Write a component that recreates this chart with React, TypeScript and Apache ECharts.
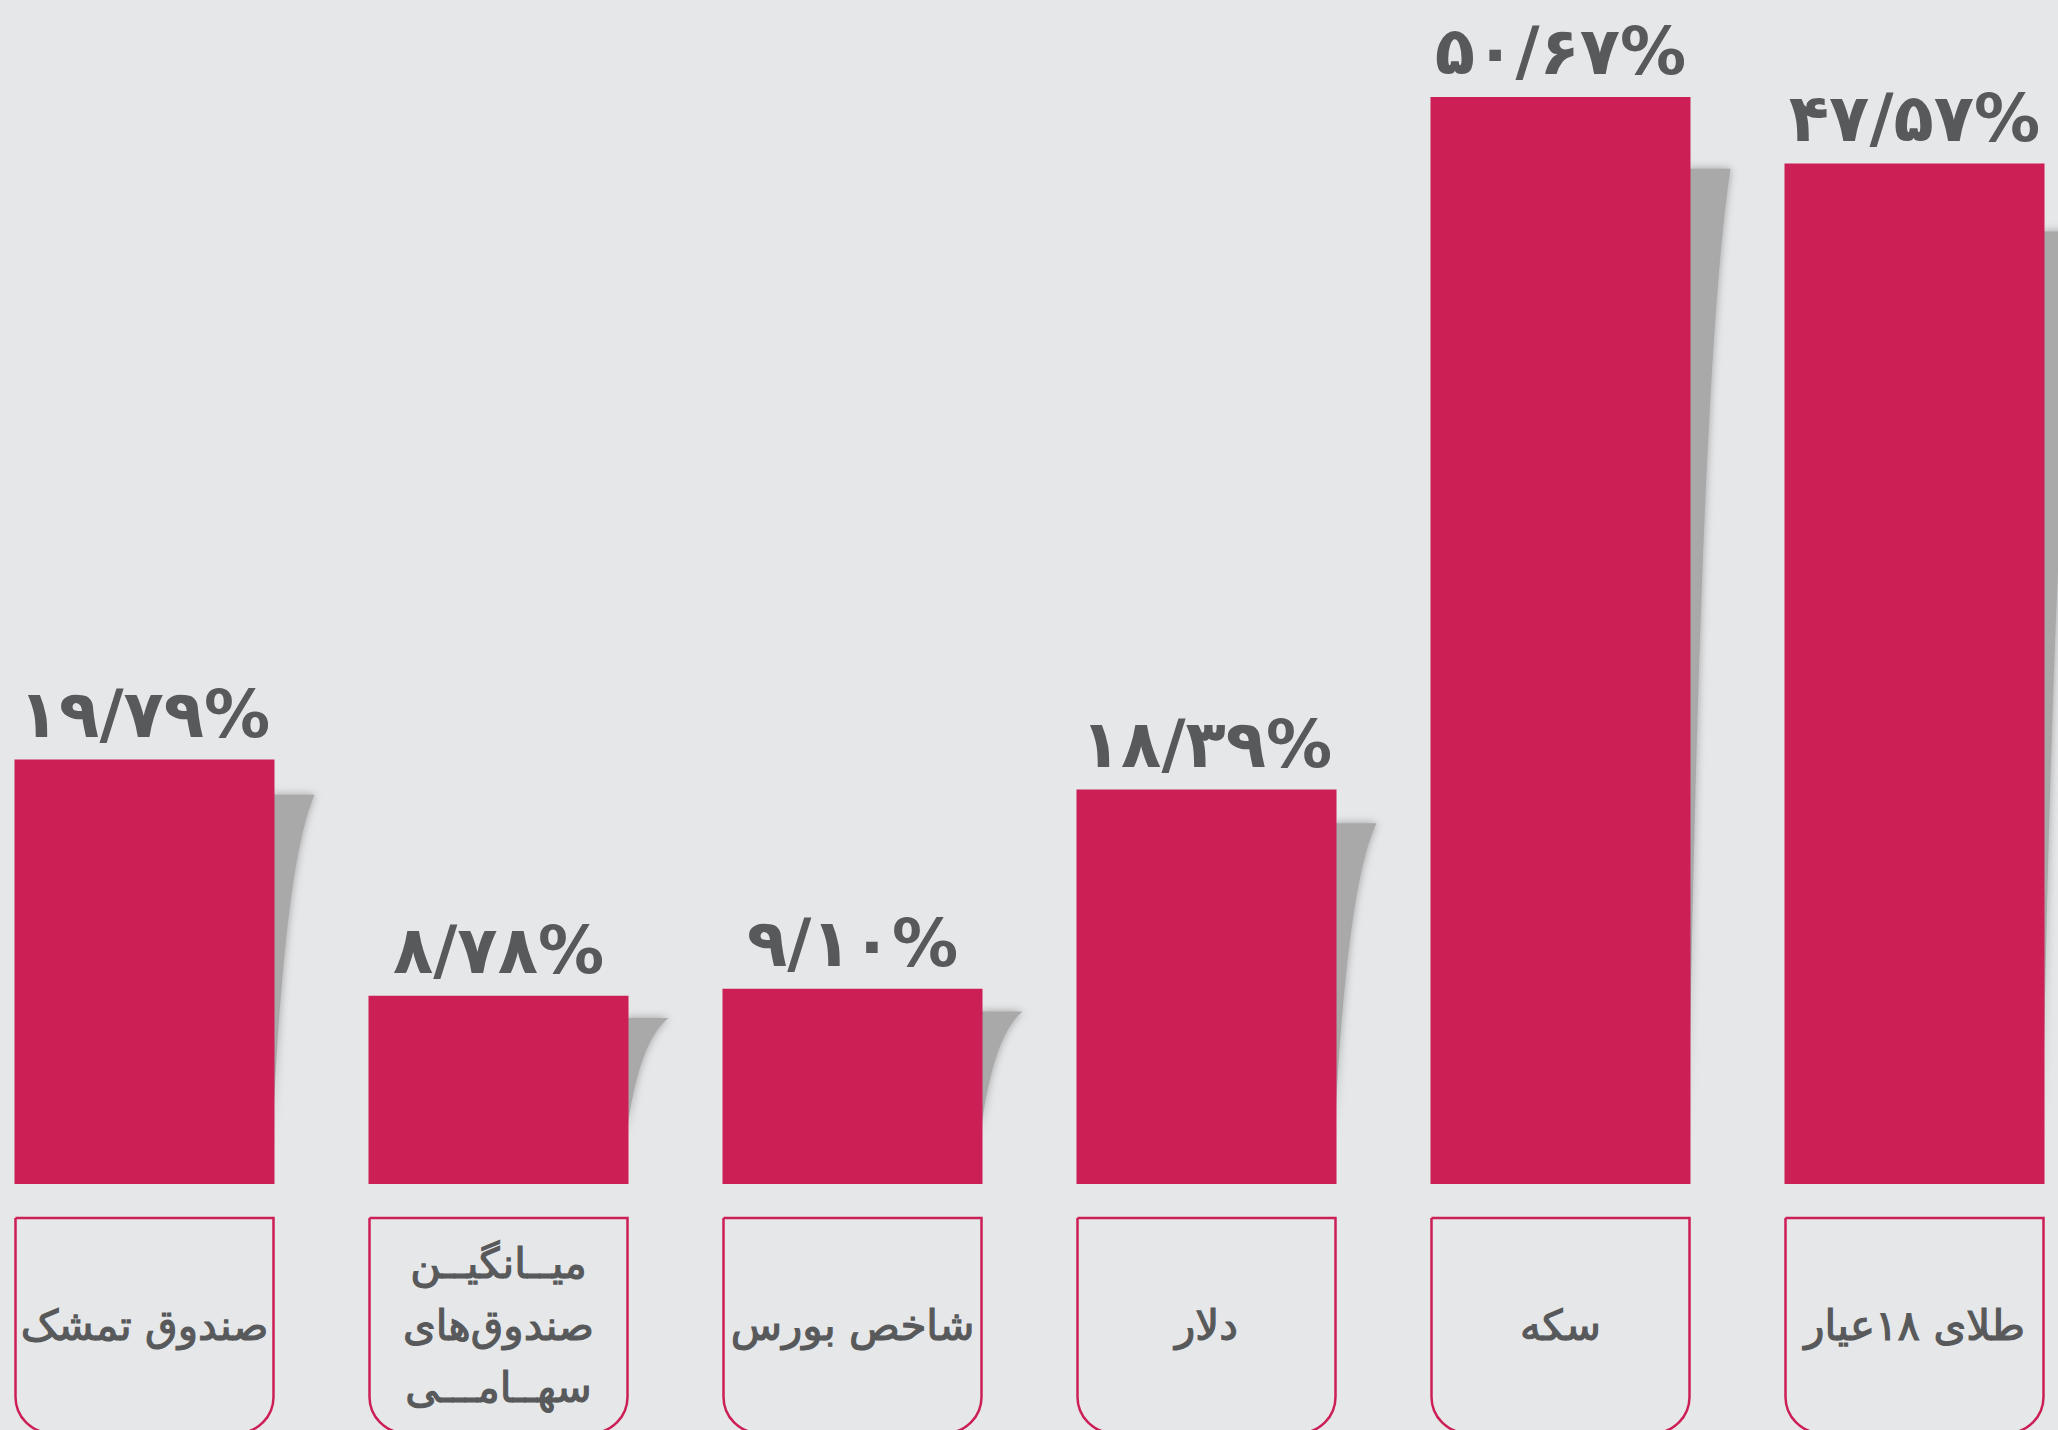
import React, { useEffect, useRef } from "react";
import * as echarts from "echarts";

// ---- data ----
const categories: string[] = [
  "صندوق تمشک",
  "میــانگیــن\nصندوق‌های\nسهــامـــی",
  "شاخص بورس",
  "دلار",
  "سکه",
  "طلای ۱۸عیار",
];
const values: number[] = [19.79, 8.78, 9.1, 18.39, 50.67, 47.57];

// ---- style ----
const BG = "#E6E7E9";
const CRIMSON = "#CC1F56";
const TEXT = "#58595B";
const SHADOW = "#A9A9A9";
const FONT = "'DejaVu Sans', 'Noto Sans', sans-serif";
const BAR_W = 260;
const BOX_W = 258;
const BOX_H = 215;
const BOX_GAP = 34;
const BOX_R = 36;

const persianDigits = "۰۱۲۳۴۵۶۷۸۹";
function toPersianPercent(v: number): string {
  return (
    v
      .toFixed(2)
      .replace(/\d/g, (d) => persianDigits[+d])
      .replace(".", "/") + "%"
  );
}

export default function App() {
  const ref = useRef<HTMLDivElement>(null);

  useEffect(() => {
    if (!ref.current) return;
    const chart = echarts.init(ref.current, undefined, { renderer: "svg" });

    const option: any = {
      animation: false,
      backgroundColor: BG,
      grid: {
        left: -32.5,
        right: -33.5,
        top: 4,
        bottom: 246,
        containLabel: false,
        outerBoundsMode: "none",
      },
      xAxis: {
        type: "category",
        data: categories,
        axisLine: { show: false },
        axisTick: { show: false },
        axisLabel: { show: false },
        splitLine: { show: false },
      },
      yAxis: {
        type: "value",
        min: 0,
        max: 55,
        show: false,
        splitLine: { show: false },
      },
      series: [
        {
          name: "shadow",
          type: "custom",
          z: 1,
          clip: false,
          silent: true,
          data: values.map((v, i) => [i, v]),
          encode: { x: 0, y: 1 },
          renderItem: (params: any, api: any) => {
            const i = api.value(0);
            const v = api.value(1);
            const top = api.coord([i, v]);
            const base = api.coord([i, 0]);
            const xr = top[0] + BAR_W / 2;
            const h = base[1] - top[1];
            const ys = top[1] + 0.055 * h + 12;
            const L = base[1] - ys - 50;
            const W = 40;
            return {
              type: "path",
              shape: {
                pathData: `M${xr - 2} ${ys} L${xr + W} ${ys} Q${xr + W * 0.25} ${
                  ys + L * 0.2
                } ${xr - 2} ${ys + L} Z`,
              },
              style: {
                fill: SHADOW,
                shadowBlur: 8,
                shadowColor: "rgba(150,150,150,0.9)",
              },
            };
          },
        },
        {
          name: "bars",
          type: "bar",
          z: 3,
          data: values,
          barWidth: BAR_W,
          itemStyle: { color: CRIMSON },
          label: {
            show: true,
            position: "top",
            distance: 12,
            formatter: (p: any) => toPersianPercent(values[p.dataIndex]),
            fontSize: 66,
            fontWeight: "bold",
            color: TEXT,
            fontFamily: FONT,
          },
        },
        {
          name: "boxes",
          type: "custom",
          z: 2,
          clip: false,
          silent: true,
          data: categories.map((_, i) => [i, 0]),
          encode: { x: 0, y: 1 },
          renderItem: (params: any, api: any) => {
            const i = api.value(0);
            const p = api.coord([i, 0]);
            const x0 = p[0] - BOX_W / 2;
            const top = p[1] + BOX_GAP;
            return {
              type: "group",
              children: [
                {
                  type: "rect",
                  shape: {
                    x: x0,
                    y: top,
                    width: BOX_W,
                    height: BOX_H,
                    r: [0, 0, BOX_R, BOX_R],
                  },
                  style: { fill: "none", stroke: CRIMSON, lineWidth: 2.5 },
                },
                {
                  type: "text",
                  style: {
                    text: categories[i],
                    x: p[0],
                    y: top + BOX_H / 2,
                    align: "center",
                    verticalAlign: "middle",
                    fontSize: 42,
                    lineHeight: 62,
                    fontFamily: FONT,
                    fill: TEXT,
                    stroke: TEXT,
                    lineWidth: 1.2,
                  },
                },
              ],
            };
          },
        },
      ],
    };

    chart.setOption(option);
    return () => {
      chart.dispose();
    };
  }, []);

  return (
    <div
      ref={ref}
      style={{
        position: "absolute",
        left: 0,
        top: 0,
        width: 2058,
        height: 1430,
      }}
    />
  );
}
